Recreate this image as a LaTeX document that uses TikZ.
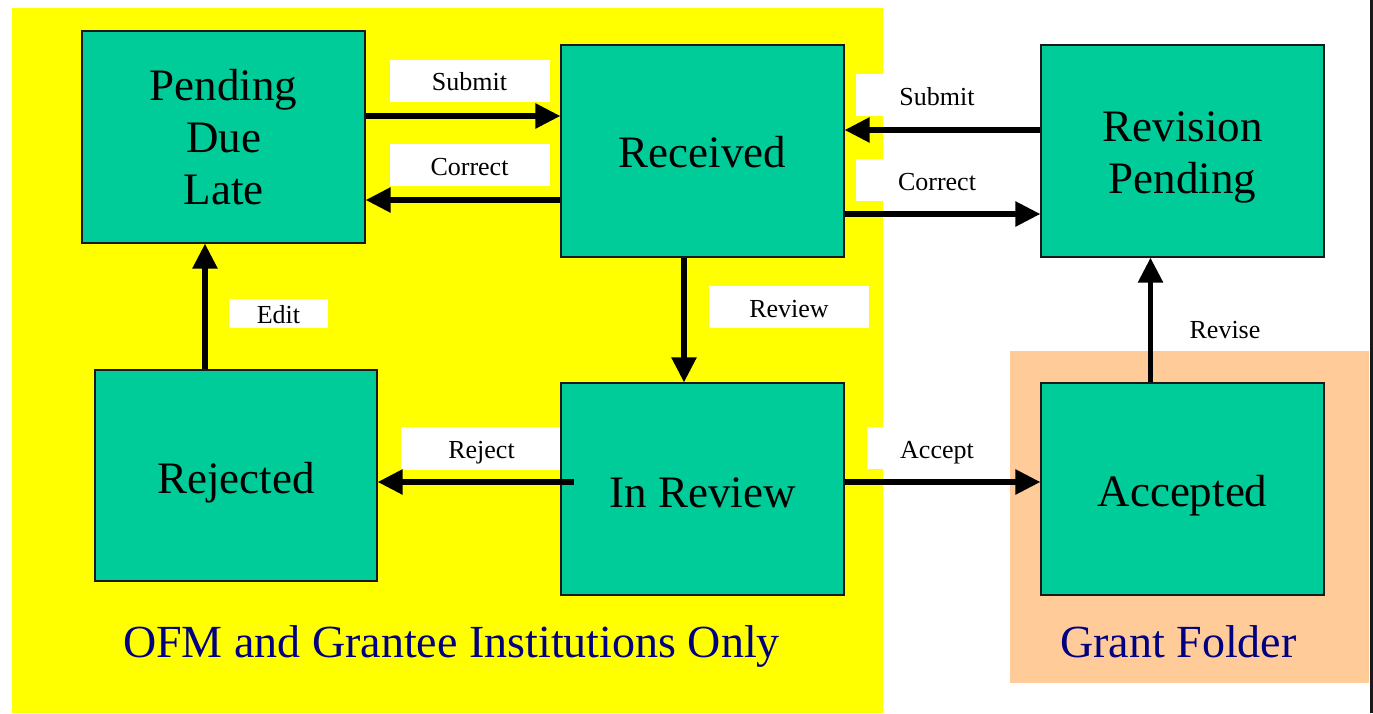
\documentclass[tikz,border=0pt]{standalone}
\usepackage{fontspec}
\setmainfont{Liberation Serif}
\usetikzlibrary{arrows.meta}
\definecolor{tealc}{HTML}{00CC99}
\definecolor{yellowc}{HTML}{FFFF00}
\definecolor{orangec}{HTML}{FFCC99}
\definecolor{navyc}{HTML}{000080}
\newcommand{\dropby}[2]{\raisebox{-#1}[\height][\depth]{#2}}
\tikzset{
  statebox/.style={rectangle, fill=tealc, draw=black!90, line width=1.2pt, inner sep=0pt,
    minimum width=283pt, minimum height=212pt, align=center,
    font=\fontsize{45}{52}\selectfont},
  lab/.style={rectangle, fill=white, inner sep=0pt, minimum width=160pt, minimum height=42pt,
    text height=20pt, text depth=0pt,
    font=\fontsize{26}{30}\selectfont},
  arr/.style={line width=5.5pt, -{Triangle[length=25pt,width=24pt]}},
  region/.style={font=\fontsize{46}{52}\selectfont, text=navyc, anchor=base, inner sep=0pt}
}
\begin{document}
\begin{tikzpicture}[x=1pt,y=-1pt]
\useasboundingbox (0,0) rectangle (1373,713);
\fill[white] (0,0) rectangle (1373,713);
\fill[yellowc] (12,8) rectangle (883,713);
\fill[orangec] (1010,351) rectangle (1369,683);
\draw[line width=3pt, black!90] (1371.5,0) -- (1371.5,713);

% labels (white boxes)
\node[lab] (lsub1) at (469.5,80.5) {Submit};
\node[lab] (lcor1) at (469.5,165) {Correct};
\node[lab, minimum width=162pt] (lsub2) at (937,95) {Submit};
\node[lab, minimum width=162pt] (lcor2) at (937,180) {Correct};
\node[lab] (lrev) at (789,307) {Review};
\node[lab, minimum width=99pt, minimum height=29pt] (ledit) at (278.5,313.5) {Edit};
\node[lab, minimum width=161pt, minimum height=43pt] (lrej) at (481.5,448) {Reject};
\node[lab, minimum width=140pt] (lacc) at (937,448) {Accept};
\node[lab, minimum width=120pt] (lrevise) at (1225,328) {Revise};

% state boxes
\node[statebox] (pend) at (223.5,137) {Pending\\Due\\Late};
\node[statebox] (recv) at (702.5,151) {\dropby{1pt}{Received}};
\node[statebox] (revp) at (1182.5,151) {\dropby{6.5pt}{Revision}\\\dropby{6.5pt}{Pending}};
\node[statebox, minimum width=282pt, minimum height=211pt] (rej) at (236,475.5) {\dropby{7pt}{Rejected}};
\node[statebox] (inrev) at (702.5,489) {\dropby{4pt}{In Review}};
\node[statebox] (acc) at (1182.5,489) {\dropby{7pt}{Accepted}};

% connectors
\coordinate (rejstart) at (574,482);
\draw[arr] (pend.east |- 0,116) -- (recv.west |- 0,116);
\draw[arr] (recv.west |- 0,200) -- (pend.east |- 0,200);
\draw[arr] (revp.west |- 0,130) -- (recv.east |- 0,130);
\draw[arr] (recv.east |- 0,214) -- (revp.west |- 0,214);
\draw[arr] (recv.south -| 684,0) -- (inrev.north -| 684,0);
\draw[arr] (rej.north -| 205,0) -- (pend.south -| 205,0);
\draw[arr] (rejstart) -- (rej.east |- rejstart);
\draw[arr] (inrev.east |- 0,482) -- (acc.west |- 0,482);
\draw[arr] (acc.north -| 1150.5,0) -- (revp.south -| 1150.5,0);

% region captions
\node[region] (ofm) at (451.5,657) {OFM and Grantee Institutions Only};
\node[region] (gf) at (1178.5,657) {Grant Folder};
\end{tikzpicture}
\end{document}
